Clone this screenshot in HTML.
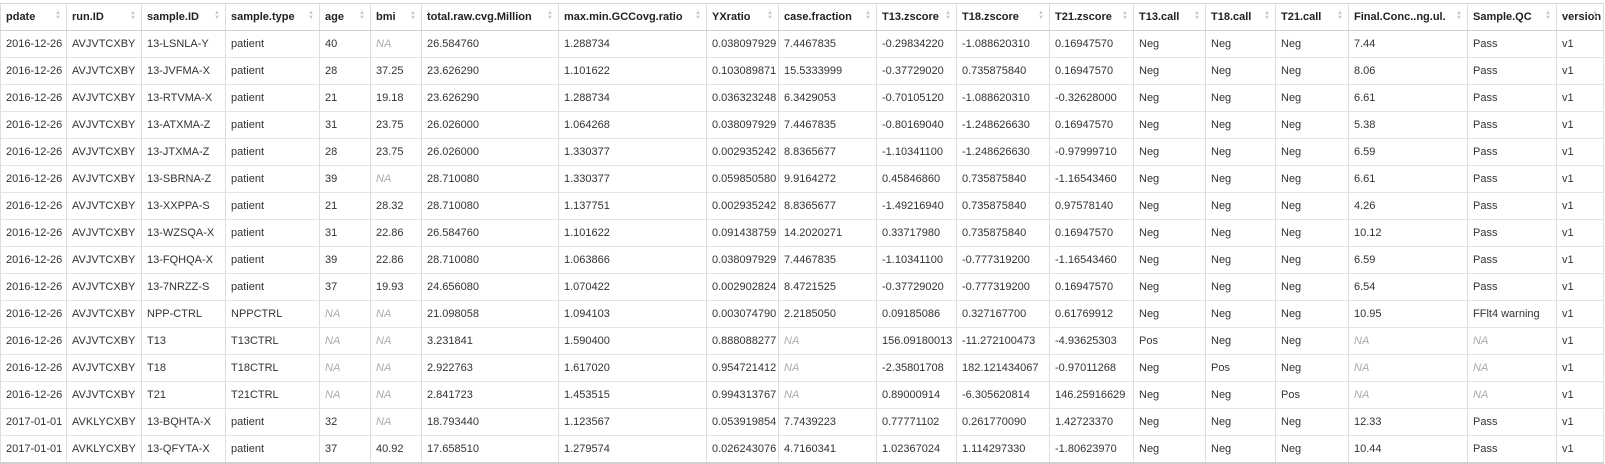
<!DOCTYPE html>
<html><head><meta charset="utf-8">
<style>
html,body{margin:0;padding:0;background:#fff;width:1605px;height:463px;overflow:hidden}
table{position:absolute;left:0;top:3px;border-collapse:collapse;table-layout:fixed;width:1603px;font-family:"Liberation Sans",sans-serif;font-size:11px;color:#333}
th,td{border-left:1px solid #dedede;border-right:1px solid #dedede;padding:0 5px;text-align:left;white-space:nowrap;overflow:hidden}
th{height:26px;font-weight:bold;color:#222;border-top:1px solid #d6d6d6;border-bottom:1px solid #cfcfcf;position:relative}
td{height:26px;border-bottom:1px solid #e4e4e4}
tr:last-child td{border-bottom:2px solid #cfcfcf}
.na{color:#aaa;font-style:italic}
.s{position:absolute;right:5px;top:7px;font-size:6px;line-height:5px;color:#c8c8c8;font-weight:normal}
</style></head><body>
<table>
<colgroup>
<col style="width:66px"><col style="width:75px"><col style="width:84px"><col style="width:94px"><col style="width:51px"><col style="width:51px"><col style="width:137px"><col style="width:148px"><col style="width:72px"><col style="width:98px"><col style="width:80px"><col style="width:93px"><col style="width:84px"><col style="width:72px"><col style="width:70px"><col style="width:73px"><col style="width:119px"><col style="width:89px"><col style="width:47px">
</colgroup>
<thead><tr id="hr"></tr></thead>
<tbody id="tb"></tbody>
</table>
<script>
const headers=["pdate","run.ID","sample.ID","sample.type","age","bmi","total.raw.cvg.Million","max.min.GCCovg.ratio","YXratio","case.fraction","T13.zscore","T18.zscore","T21.zscore","T13.call","T18.call","T21.call","Final.Conc..ng.ul.","Sample.QC","version"];
const rows=[
["2016-12-26","AVJVTCXBY","13-LSNLA-Y","patient","40","NA","26.584760","1.288734","0.038097929","7.4467835","-0.29834220","-1.088620310","0.16947570","Neg","Neg","Neg","7.44","Pass","v1"],
["2016-12-26","AVJVTCXBY","13-JVFMA-X","patient","28","37.25","23.626290","1.101622","0.103089871","15.5333999","-0.37729020","0.735875840","0.16947570","Neg","Neg","Neg","8.06","Pass","v1"],
["2016-12-26","AVJVTCXBY","13-RTVMA-X","patient","21","19.18","23.626290","1.288734","0.036323248","6.3429053","-0.70105120","-1.088620310","-0.32628000","Neg","Neg","Neg","6.61","Pass","v1"],
["2016-12-26","AVJVTCXBY","13-ATXMA-Z","patient","31","23.75","26.026000","1.064268","0.038097929","7.4467835","-0.80169040","-1.248626630","0.16947570","Neg","Neg","Neg","5.38","Pass","v1"],
["2016-12-26","AVJVTCXBY","13-JTXMA-Z","patient","28","23.75","26.026000","1.330377","0.002935242","8.8365677","-1.10341100","-1.248626630","-0.97999710","Neg","Neg","Neg","6.59","Pass","v1"],
["2016-12-26","AVJVTCXBY","13-SBRNA-Z","patient","39","NA","28.710080","1.330377","0.059850580","9.9164272","0.45846860","0.735875840","-1.16543460","Neg","Neg","Neg","6.61","Pass","v1"],
["2016-12-26","AVJVTCXBY","13-XXPPA-S","patient","21","28.32","28.710080","1.137751","0.002935242","8.8365677","-1.49216940","0.735875840","0.97578140","Neg","Neg","Neg","4.26","Pass","v1"],
["2016-12-26","AVJVTCXBY","13-WZSQA-X","patient","31","22.86","26.584760","1.101622","0.091438759","14.2020271","0.33717980","0.735875840","0.16947570","Neg","Neg","Neg","10.12","Pass","v1"],
["2016-12-26","AVJVTCXBY","13-FQHQA-X","patient","39","22.86","28.710080","1.063866","0.038097929","7.4467835","-1.10341100","-0.777319200","-1.16543460","Neg","Neg","Neg","6.59","Pass","v1"],
["2016-12-26","AVJVTCXBY","13-7NRZZ-S","patient","37","19.93","24.656080","1.070422","0.002902824","8.4721525","-0.37729020","-0.777319200","0.16947570","Neg","Neg","Neg","6.54","Pass","v1"],
["2016-12-26","AVJVTCXBY","NPP-CTRL","NPPCTRL","NA","NA","21.098058","1.094103","0.003074790","2.2185050","0.09185086","0.327167700","0.61769912","Neg","Neg","Neg","10.95","FFlt4 warning","v1"],
["2016-12-26","AVJVTCXBY","T13","T13CTRL","NA","NA","3.231841","1.590400","0.888088277","NA","156.09180013","-11.272100473","-4.93625303","Pos","Neg","Neg","NA","NA","v1"],
["2016-12-26","AVJVTCXBY","T18","T18CTRL","NA","NA","2.922763","1.617020","0.954721412","NA","-2.35801708","182.121434067","-0.97011268","Neg","Pos","Neg","NA","NA","v1"],
["2016-12-26","AVJVTCXBY","T21","T21CTRL","NA","NA","2.841723","1.453515","0.994313767","NA","0.89000914","-6.305620814","146.25916629","Neg","Neg","Pos","NA","NA","v1"],
["2017-01-01","AVKLYCXBY","13-BQHTA-X","patient","32","NA","18.793440","1.123567","0.053919854","7.7439223","0.77771102","0.261770090","1.42723370","Neg","Neg","Neg","12.33","Pass","v1"],
["2017-01-01","AVKLYCXBY","13-QFYTA-X","patient","37","40.92","17.658510","1.279574","0.026243076","4.7160341","1.02367024","1.114297330","-1.80623970","Neg","Neg","Neg","10.44","Pass","v1"]
];
const hr=document.getElementById('hr');
headers.forEach(h=>{
  const th=document.createElement('th');
  
  
  th.textContent=h;
  const s=document.createElement('span');s.className='s';s.innerHTML='&#9650;<br>&#9660;';
  
  
  th.appendChild(s);
  hr.appendChild(th);
});
const tb=document.getElementById('tb');
rows.forEach((r,i)=>{
  const tr=document.createElement('tr');
  
  
  r.forEach(v=>{
    const td=document.createElement('td');
    
    
    td.textContent=v;
    if(v==='NA')td.className='na';
    tr.appendChild(td);
  });
  tb.appendChild(tr);
});
</script>
</body></html>
